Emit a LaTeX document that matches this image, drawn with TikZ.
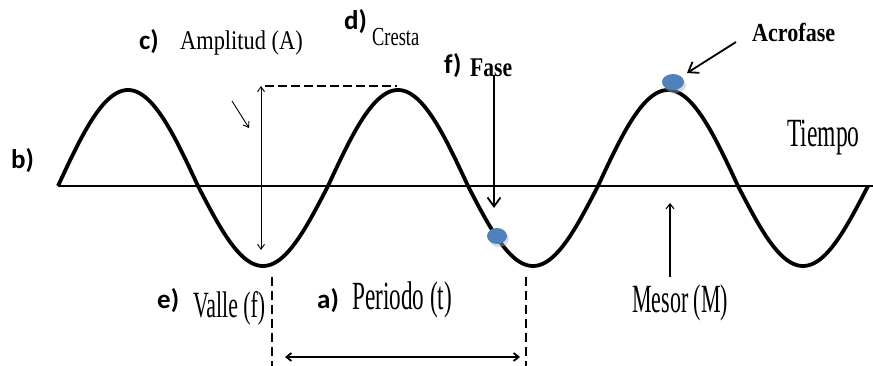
\documentclass[tikz,border=0pt]{standalone}
\usepackage{fontspec}
\setmainfont{Liberation Serif}
\newfontfamily\lblfont{Carlito}
\usetikzlibrary{arrows.meta,shapes.geometric}
\definecolor{dotblue}{HTML}{4F81BD}
\begin{document}
\begin{tikzpicture}[x=1pt,y=-1pt,
  lbl/.style={font=\lblfont\bfseries\fontsize{27}{27}\selectfont, inner sep=0pt, anchor=base west},
  ser/.style 2 args={font=\rmfamily\fontsize{#1}{#1}\selectfont, inner sep=0pt, anchor=base west, xscale=#2},
  bser/.style 2 args={font=\rmfamily\bfseries\fontsize{#1}{#1}\selectfont, inner sep=0pt, anchor=base west, xscale=#2},
  wave/.style={line width=3.8pt, line join=round},
  axisline/.style={line width=2.4pt},
  thinarrow/.style={line width=0.9pt, arrows={Straight Barb[length=5pt,width=7pt]-Straight Barb[length=5pt,width=7pt]}},
  medarrow/.style={line width=1.8pt, -{Straight Barb[length=9pt,width=13pt]}},
  dimarrow/.style={line width=1.8pt, {Straight Barb[length=5pt,width=8pt]}-{Straight Barb[length=5pt,width=8pt]}},
  guide/.style={line width=1.3pt, dash pattern=on 9pt off 5pt},
  crestguide/.style={line width=1.8pt, dash pattern=on 9pt off 4pt},
  bluedot/.style={fill=dotblue, draw=none},
  dotshadow/.style={fill=gray!60, opacity=0.45, draw=none}
]
\useasboundingbox (0,0) rectangle (873,366);

% axis
\coordinate (axL) at (58,186);
\coordinate (axR) at (873,186);
\draw[axisline] (axL) -- (axR);

% wave
\draw[wave] (58,186)
  \foreach \s in {58,328,598} {
    -- plot[domain=\s:\s+140, samples=60] (\x, {186 - 96*sin((\x-\s)/140*180)})
    -- plot[domain=\s+140:\s+270, samples=60] (\x, {186 + 80*sin((\x-\s-140)/130*180)})
  };

% amplitude
\coordinate (ampTop) at (261,86);
\coordinate (ampBot) at (261,250);
\coordinate (crestTop) at (397,86);
\draw[thinarrow] (ampBot) -- (ampTop);
\draw[crestguide] ([xshift=4pt]ampTop) -- (crestTop);
\coordinate (ampPtrA) at (232,101);
\coordinate (ampPtrB) at (249,128);
\draw[line width=0.9pt, -{Straight Barb[length=5pt,width=7pt]}] (ampPtrA) -- (ampPtrB);

% period
\coordinate (perL1) at (272,277);
\coordinate (perL2) at (272,366);
\coordinate (perR1) at (526,277);
\coordinate (perR2) at (526,366);
\draw[guide] (perL1) -- (perL2);
\draw[guide] (perR1) -- (perR2);
\coordinate (perA) at (285,357);
\coordinate (perB) at (520,357);
\draw[dimarrow] (perA) -- (perB);

% mesor
\coordinate (mesA) at (670,277);
\coordinate (mesB) at (670,203);
\draw[line width=1.1pt, -{Straight Barb[length=5pt,width=8pt]}] (mesA) -- (mesB);

% fase
\coordinate (faseA) at (494,75);
\coordinate (faseB) at (494,208);
\draw[medarrow] (faseA) -- (faseB);

% acrofase arrow
\coordinate (acroA) at (736,42);
\coordinate (acroB) at (687,73);
\draw[medarrow] (acroA) -- (acroB);

% blue dots
\fill[dotshadow] (499,239) ellipse (10pt and 8pt);
\node[bluedot, ellipse, minimum width=20pt, minimum height=16pt, inner sep=0pt] (dotFase) at (497,236) {};
\fill[dotshadow] (675,85) ellipse (11pt and 8pt);
\node[bluedot, ellipse, minimum width=22pt, minimum height=16pt, inner sep=0pt] (dotAcro) at (673,82) {};

% labels
\node[lbl] (lb) at (11,169) {b)};
\node[lbl] (lc) at (139,50) {c)};
\node[lbl] (ld) at (344,30) {d)};
\node[lbl] (lf) at (444,74) {f)};
\node[lbl] (le) at (157,308) {e)};
\node[lbl] (la) at (317,308) {a)};

\node[ser={27}{0.83}] (amp) at (180,50) {Amplitud (A)};
\node[ser={26}{0.71}] (cresta) at (372,46) {Cresta};
\node[bser={27}{0.8}] (fase) at (470,77) {Fase};
\node[bser={26}{0.85}] (acro) at (752,42) {Acrofase};
\node[ser={40}{0.59}] (tiempo) at (787,147) {Tiempo};
\node[ser={37}{0.59}] (valle) at (193,317) {Valle (f)};
\node[ser={40}{0.58}] (periodo) at (352,309) {Periodo (t)};
\node[ser={40}{0.55}] (mesor) at (632,312) {Mesor (M)};
\end{tikzpicture}
\end{document}
